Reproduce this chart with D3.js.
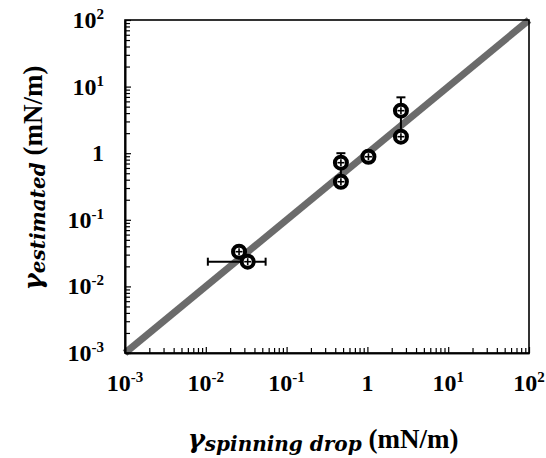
<!DOCTYPE html>
<html><head><meta charset="utf-8">
<script src="https://cdn.jsdelivr.net/npm/d3@7"></script>
<style>html,body{margin:0;padding:0;background:#fff;}svg{display:block;}</style>
</head><body>
<svg id="chart" width="546" height="458"></svg>
<script>
// ---- data ----
const xVals = [0.0258, 0.033, 0.47, 0.47, 1.03, 2.6, 2.6];
const yVals = [0.0332, 0.0235, 0.72, 0.373, 0.885, 4.35, 1.77];
const xErrLo = [null, 0.0106, null, null, null, null, null];
const xErrHi = [null, 0.055, null, null, null, null, null];
const yErrLo = [null, null, 0.40, null, null, 1.8, null];
const yErrHi = [null, null, 1.0, null, null, 6.9, null];
const tickVals = [1e-3, 1e-2, 1e-1, 1, 1e1, 1e2];
const tickBase = ["10", "10", "10", "1", "10", "10"];
const tickExp = ["-3", "-2", "-1", "", "1", "2"];
const lineVals = [1e-3, 1e2];

const svg = d3.select("#chart");
const L = 125, R = 529, T = 20, B = 353;
const x = d3.scaleLog().domain([1e-3, 1e2]).range([L, R]);
const y = d3.scaleLog().domain([1e-3, 1e2]).range([B, T]);

// minor ticks
const minor = [];
for (let e = -3; e < 2; e++) for (let m = 2; m <= 9; m++) minor.push(m * Math.pow(10, e));

// diagonal line
svg.append("line")
  .attr("x1", x(lineVals[0])).attr("y1", y(lineVals[0]))
  .attr("x2", x(lineVals[1])).attr("y2", y(lineVals[1]))
  .attr("stroke", "#6b6b6b").attr("stroke-width", 7);

// frame
svg.append("rect").attr("x", L).attr("y", T).attr("width", R - L).attr("height", B - T)
  .attr("fill", "none").attr("stroke", "#000").attr("stroke-width", 1.6);

// axes ticks (inward)
const xAxis = d3.axisBottom(x).tickValues(tickVals).tickSizeInner(-6).tickSizeOuter(0).tickFormat("");
const gx = svg.append("g").attr("transform", `translate(0,${B})`).call(xAxis);
const xAxisMinor = d3.axisBottom(x).tickValues(minor).tickSizeInner(-5).tickSizeOuter(0).tickFormat("");
const gxm = svg.append("g").attr("transform", `translate(0,${B})`).call(xAxisMinor);
const yAxis = d3.axisLeft(y).tickValues(tickVals).tickSizeInner(-6).tickSizeOuter(0).tickFormat("");
const gy = svg.append("g").attr("transform", `translate(${L},0)`).call(yAxis);
const yAxisMinor = d3.axisLeft(y).tickValues(minor).tickSizeInner(-5).tickSizeOuter(0).tickFormat("");
const gym = svg.append("g").attr("transform", `translate(${L},0)`).call(yAxisMinor);
[gx, gxm, gy, gym].forEach(g => {
  g.select(".domain").attr("stroke", "#000").attr("stroke-width", 1.6);
  g.selectAll(".tick line").attr("stroke", "#000").attr("stroke-width", 1.2);
});

// tick labels
const lblFont = "'Liberation Serif', 'Times New Roman', serif";
tickVals.forEach((v, i) => {
  const tx = svg.append("text").attr("x", x(v)).attr("y", 391)
    .attr("text-anchor", "middle").attr("font-family", lblFont)
    .attr("font-weight", "bold").attr("font-size", 24).attr("fill", "#000");
  tx.append("tspan").text(tickBase[i]);
  if (tickExp[i]) tx.append("tspan").attr("dy", -9).attr("font-size", 15).text(tickExp[i]);

  const ty = svg.append("text").attr("x", 104).attr("y", y(v) + 8)
    .attr("text-anchor", "end").attr("font-family", lblFont)
    .attr("font-weight", "bold").attr("font-size", 24).attr("fill", "#000");
  ty.append("tspan").text(tickBase[i]);
  if (tickExp[i]) ty.append("tspan").attr("dy", -9).attr("font-size", 15).text(tickExp[i]);
});

// error bars
const eb = svg.append("g").attr("stroke", "#000").attr("stroke-width", 2);
xVals.forEach((xv, i) => {
  if (xErrLo[i] != null) {
    const yy = y(yVals[i]);
    eb.append("line").attr("x1", x(xErrLo[i])).attr("x2", x(xErrHi[i])).attr("y1", yy).attr("y2", yy);
    [xErrLo[i], xErrHi[i]].forEach(v => eb.append("line").attr("x1", x(v)).attr("x2", x(v)).attr("y1", yy - 4).attr("y2", yy + 4));
  }
  if (yErrLo[i] != null) {
    const xx = x(xv);
    eb.append("line").attr("x1", xx).attr("x2", xx).attr("y1", y(yErrLo[i])).attr("y2", y(yErrHi[i]));
    [yErrLo[i], yErrHi[i]].forEach(v => eb.append("line").attr("x1", xx - 4.5).attr("x2", xx + 4.5).attr("y1", y(v)).attr("y2", y(v)));
  }
});

// markers
const pts = svg.append("g");
xVals.forEach((xv, i) => {
  const cx = x(xv), cy = y(yVals[i]);
  pts.append("circle").attr("cx", cx).attr("cy", cy).attr("r", 6)
    .attr("fill", "#fff").attr("stroke", "#000").attr("stroke-width", 4);
  pts.append("line").attr("x1", cx - 3.5).attr("x2", cx + 3.5).attr("y1", cy).attr("y2", cy)
    .attr("stroke", "#000").attr("stroke-width", 1.6);
  pts.append("line").attr("x1", cx).attr("x2", cx).attr("y1", cy - 3.5).attr("y2", cy + 3.5)
    .attr("stroke", "#000").attr("stroke-width", 1.6);
});

// axis titles
const italFont = "'DejaVu Serif', serif";
function title(sel, sub) {
  sel.append("tspan").attr("font-family", italFont).attr("font-style", "italic")
    .attr("font-weight", "bold").attr("font-size", 26).text("γ");
  sel.append("tspan").attr("font-family", italFont).attr("font-style", "italic")
    .attr("font-weight", "bold").attr("font-size", 20).attr("dy", 3).text(sub);
  sel.append("tspan").attr("font-family", lblFont).attr("font-weight", "bold")
    .attr("font-size", 27).attr("dy", -3).text(" (mN/m)");
}
const xt = svg.append("text").attr("x", 323).attr("y", 448).attr("text-anchor", "middle").attr("fill", "#000");
title(xt, "spinning drop");
const yt = svg.append("text").attr("transform", "translate(42,178) rotate(-90)")
  .attr("text-anchor", "middle").attr("fill", "#000");
title(yt, "estimated");
</script>
</body></html>
